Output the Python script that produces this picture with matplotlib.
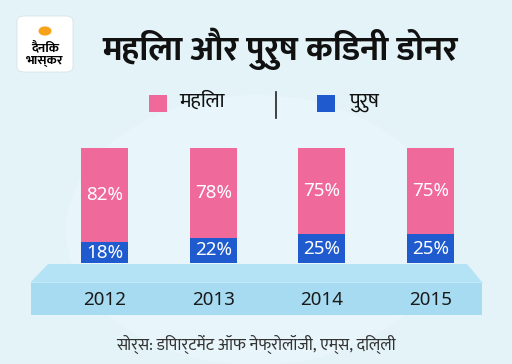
import matplotlib
matplotlib.use('Agg')
import matplotlib.pyplot as plt
from matplotlib.patches import Polygon, Rectangle, FancyBboxPatch, Circle

# data
years = ['2012', '2013', '2014', '2015']
mahila = [82, 78, 75, 75]
purush = [18, 22, 25, 25]

title = 'महिला और पुरुष किडनी डोनर'
labels = ['महिला', 'पुरुष']
source = 'सोर्स: डिपार्टमेंट ऑफ नेफ्रोलॉजी, एम्स, दिल्ली'

pink = '#ef6a9b'
blue = '#1f5bcf'
hindi = ['Mukta', 'Noto Sans Devanagari', 'Noto Sans', 'DejaVu Sans']
num = ['Noto Sans', 'DejaVu Sans']

W, H = 512, 364


def px(x, y):
    # pixel coords (top-left origin) -> figure fraction
    return (x / W, 1 - y / H)


fig = plt.figure(figsize=(5.12, 3.64), dpi=100)
fig.patch.set_facecolor('#e3f3f8')

# faint background circle
fig.patches.append(Circle(px(256, 230), 190 / W, transform=fig.transFigure,
                          facecolor='#e8f5fa', edgecolor='none', zorder=0))

# logo
x0, y0 = px(17, 72)
fig.patches.append(FancyBboxPatch((x0, y0), 56 / W, 56 / H,
                                  boxstyle='round,pad=0,rounding_size=0.015',
                                  transform=fig.transFigure, facecolor='white',
                                  edgecolor='#d8e4e8', lw=0.6, zorder=2))
fig.patches.append(Circle(px(45, 31), 6.5 / W, transform=fig.transFigure,
                          facecolor='#f7a21b', edgecolor='none', zorder=3))
fig.text(*px(45, 48), 'दैनिक', family=hindi, weight='bold', fontsize=9.5,
         ha='center', va='center', zorder=4)
fig.text(*px(45, 61), 'भास्कर', family=hindi, weight='bold', fontsize=9.5,
         ha='center', va='center', zorder=4)

# title
fig.text(*px(280, 49), title, family=hindi, weight='bold', fontsize=25,
         ha='center', va='center', color='#111111')

# legend
fig.patches.append(Rectangle(px(149, 112), 18 / W, 17 / H, transform=fig.transFigure,
                             facecolor=pink, edgecolor='none', zorder=2))
fig.text(*px(179, 102), labels[0], family=hindi, fontsize=15,
         ha='left', va='center', color='#111111')
fig.add_artist(plt.Line2D([276 / W, 276 / W], [1 - 92 / H, 1 - 118 / H],
                          color='#222222', lw=1.2))
fig.patches.append(Rectangle(px(317, 112), 18 / W, 17 / H, transform=fig.transFigure,
                             facecolor=blue, edgecolor='none', zorder=2))
fig.text(*px(349, 102), labels[1], family=hindi, fontsize=15,
         ha='left', va='center', color='#111111')

# bars
l, b = px(50, 263)
r, t = px(485, 148)
ax = fig.add_axes([l, b, r - l, t - b])
ax.set_zorder(1)
ax.set_facecolor('none')
xs = range(len(years))
ax.bar(xs, purush, width=0.43, color=blue)
ax.bar(xs, mahila, width=0.43, bottom=purush, color=pink)
for i in xs:
    ax.text(i, purush[i] / 2, f'{purush[i]}%', ha='center', va='center',
            color='white', fontsize=13.5, family=num)
    ax.text(i, purush[i] + mahila[i] / 2, f'{mahila[i]}%', ha='center',
            va='center', color='white', fontsize=13.5, family=num)
ax.set_xlim(-0.5, 3.5)
ax.set_ylim(0, 100)
ax.axis('off')

# platform
top = [px(48, 264), px(467, 264), px(482, 282), px(31, 282)]
fig.patches.append(Polygon(top, closed=True, transform=fig.transFigure,
                           facecolor='#b3e3f5', edgecolor='none', zorder=2))
fig.patches.append(Rectangle(px(31, 315), 451 / W, 33 / H, transform=fig.transFigure,
                             facecolor='#a6dbf1', edgecolor='none', zorder=2))
fig.add_artist(plt.Line2D([31 / W, 482 / W], [1 - 282 / H, 1 - 282 / H],
                          color='#c4eaf8', lw=0.8, zorder=3))

# year labels under each bar
for i, yr in enumerate(years):
    xd = ax.transData.transform((i, 0))[0]
    xf = fig.transFigure.inverted().transform((xd, 0))[0]
    fig.text(xf, 1 - 300 / H, yr, ha='center', va='center', fontsize=13.5,
             family=num, color='#1a1a1a', zorder=4)

# source
fig.text(*px(256, 344), source, family=hindi, fontsize=12,
         ha='center', va='center', color='#333333')

fig.savefig('out.png', dpi=100, facecolor=fig.get_facecolor())
